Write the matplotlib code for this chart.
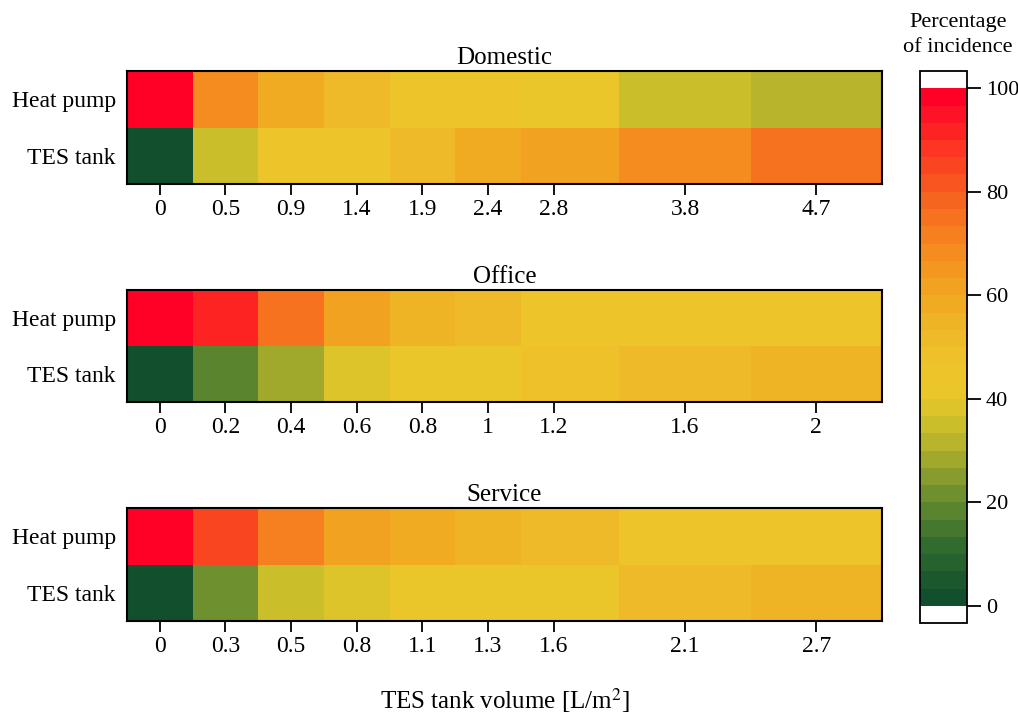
import numpy as np
import matplotlib.pyplot as plt
from matplotlib.colors import LinearSegmentedColormap

plt.rcParams['font.family'] = ['Liberation Serif', 'DejaVu Serif']
plt.rcParams['mathtext.fontset'] = 'stix'

# data
rows = ["Heat pump", "TES tank"]
titles = ["Domestic", "Office", "Service"]

domestic_vol = ["0", "0.5", "0.9", "1.4", "1.9", "2.4", "2.8", "3.8", "4.7"]
domestic_hp = [100, 69, 57, 52, 45, 45, 41, 34, 30]
domestic_tes = [0, 34, 45, 45, 53, 57, 61, 69, 75]

office_vol = ["0", "0.2", "0.4", "0.6", "0.8", "1", "1.2", "1.6", "2"]
office_hp = [100, 90, 76, 62, 55, 52, 45, 45, 45]
office_tes = [0, 19, 28, 38, 43, 43, 49, 52, 56]

service_vol = ["0", "0.3", "0.5", "0.8", "1.1", "1.3", "1.6", "2.1", "2.7"]
service_hp = [100, 86, 70, 62, 57, 54, 50, 44, 44]
service_tes = [0, 23, 34, 38, 43, 43, 43, 53, 56]

panels = [
    (domestic_vol, domestic_hp, domestic_tes),
    (office_vol, office_hp, office_tes),
    (service_vol, service_hp, service_tes),
]

# layout of the columns (last columns are wider)
x_edges = np.array([0, 1, 2, 3, 4, 5, 6, 7.5, 9.5, 11.5])
x_ticks = [0.5, 1.5, 2.5, 3.5, 4.5, 5.5, 6.5, 8.5, 10.5]

cmap = LinearSegmentedColormap.from_list(
    "incidence",
    [(0.0, "#114f2d"), (0.1, "#2f6a2e"), (0.2, "#6a8e2e"), (0.3, "#b2b12c"),
     (0.36, "#d4c22a"), (0.42, "#edc72a"), (0.5, "#eebe2a"),
     (0.6, "#f0a822"), (0.7, "#f6891f"), (0.8, "#f6621f"),
     (0.9, "#fd3322"), (1.0, "#ff0026")],
    N=30)
cmap.set_over("white")
cmap.set_under("white")

W, H = 1018, 716
fig = plt.figure(figsize=(W / 100, H / 100), dpi=100)

ax_boxes = [(127, 71, 882, 184), (127, 290, 882, 402), (127, 508, 882, 621)]

for (labels, hp, tes), title, (x0, y0, x1, y1) in zip(panels, titles, ax_boxes):
    ax = fig.add_axes([x0 / W, 1 - y1 / H, (x1 - x0) / W, (y1 - y0) / H])
    z = np.array([hp, tes])
    mesh = ax.pcolormesh(x_edges, [0, 1, 2], z, cmap=cmap, vmin=0, vmax=100)
    ax.set_xlim(x_edges[0], x_edges[-1])
    ax.set_ylim(2, 0)
    ax.set_xticks(x_ticks)
    ax.set_xticklabels(labels, fontsize=17)
    ax.set_yticks([0.5, 1.5])
    ax.set_yticklabels(rows, fontsize=17)
    ax.tick_params(axis="y", length=0, pad=8)
    ax.tick_params(axis="x", length=8, width=1.3, pad=3)
    for s in ax.spines.values():
        s.set_linewidth(1.5)
    ax.set_title(title, fontsize=18, pad=5)

ax.set_xlabel("TES tank volume [L/m$^2$]", fontsize=18, labelpad=21)

cax = fig.add_axes([920 / W, 1 - 623 / H, 47 / W, (623 - 71) / H])
cb = fig.colorbar(mesh, cax=cax, extend="both", extendrect=True, extendfrac=1 / 30)
cb.set_ticks([0, 20, 40, 60, 80, 100])
cb.ax.tick_params(labelsize=16, length=10, width=1.3)
cb.outline.set_linewidth(1.3)
fig.text(958 / W, 1 - 35 / H, "Percentage\nof incidence", ha="center", va="center",
         fontsize=16, linespacing=1.4)

fig.savefig("out.png", dpi=100)
